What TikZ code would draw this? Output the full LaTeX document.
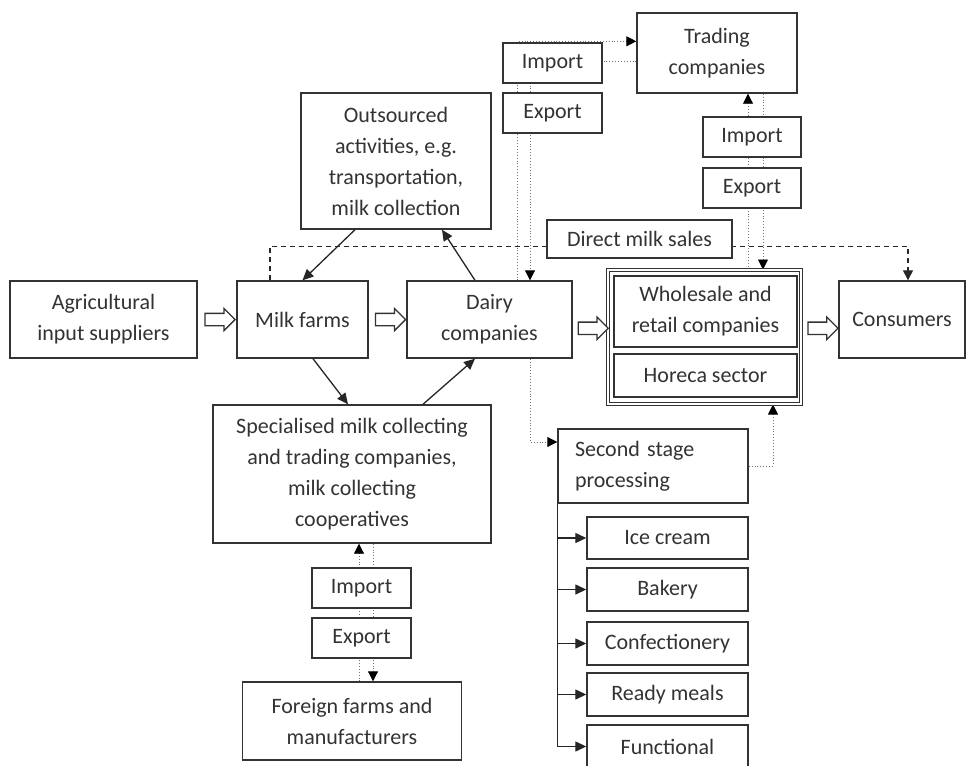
\documentclass[tikz,border=0pt]{standalone}
\usepackage{fontspec}
\setmainfont{Carlito}
\usetikzlibrary{arrows.meta,shapes.arrows,calc,backgrounds}

\begin{document}
\begin{tikzpicture}[x=1pt, y=-1pt,
  font=\fontsize{22}{31}\selectfont,
  box/.style={draw=black!80, line width=1.4pt, fill=white, text=black!80,
    align=center, inner sep=0pt},
  outerbox/.style={draw=black!80, line width=1pt, double, double distance=1.3pt,
    fill=white, inner sep=0pt},
  bigarrow/.style={single arrow, draw=black!80, line width=1.3pt, fill=white,
    minimum height=30pt, single arrow head extend=5pt,
    single arrow head indent=0pt, inner sep=0pt},
  flow/.style={draw=black!85, line width=1.3pt, -{Triangle[length=11pt,width=10pt]}},
  dotflow/.style={draw=black!55, line width=0.9pt, dotted,
    -{Triangle[length=10pt,width=10pt,fill=black,color=black]}},
  salesflow/.style={draw=black!85, line width=1.3pt, dash pattern=on 5pt off 4pt,
    -{Triangle[length=10pt,width=10pt]}}]
  \useasboundingbox (0,0) rectangle (975,766);

  \node[box, minimum width=187pt, minimum height=77pt] (agr) at (103.5,319.5) {Agricultural\\input suppliers};
  \node[box, minimum width=131pt, minimum height=77pt] (milk) at (302.5,319.5) {Milk farms};
  \node[box, minimum width=165pt, minimum height=77pt] (dairy) at (489.5,319.5) {Dairy\\companies};
  \node[outerbox, minimum width=193pt, minimum height=134pt] (wsout) at (704.5,337) {};
  \node[box, minimum width=183pt, minimum height=71pt] (retail) at (705.5,311.5) {Wholesale and\\retail companies};
  \node[box, minimum width=183pt, minimum height=43pt] (horeca) at (705.5,375.5) {Horeca sector};
  \node[box, minimum width=126pt, minimum height=77pt] (cons) at (902,319.5) {Consumers};

  \node[box, minimum width=190pt, minimum height=136pt] (outs) at (396,161) {Outsourced\\activities, e.g.\\transportation,\\milk collection};
  \node[box, minimum width=278pt, minimum height=138pt] (spec) at (352,474) {Specialised milk collecting\\and trading companies,\\milk collecting\\cooperatives};
  \node[box, minimum width=99pt, minimum height=40pt] (impL) at (361.5,588) {Import};
  \node[box, minimum width=99pt, minimum height=40pt] (expL) at (361.5,638) {Export};
  \node[box, minimum width=219pt, minimum height=78pt] (foreign) at (352,721) {Foreign farms and\\manufacturers};

  \node[box, minimum width=160pt, minimum height=80pt] (trade) at (717,53) {Trading\\companies};
  \node[box, minimum width=99pt, minimum height=40pt] (impT) at (552.5,63) {Import};
  \node[box, minimum width=99pt, minimum height=40pt] (expT) at (552.5,113) {Export};
  \node[box, minimum width=98pt, minimum height=40pt] (impR) at (752,137) {Import};
  \node[box, minimum width=98pt, minimum height=40pt] (expR) at (752,188) {Export};
  \node[box, minimum width=185pt, minimum height=38pt] (direct) at (639.5,239) {Direct milk sales};

  \node[box, align=left, text width=156pt, inner xsep=17pt, minimum height=74pt] (second) at (653,466) {Second stage\\processing};
  \node[box, minimum width=161pt, minimum height=42pt] (icecream) at (667.5,538) {Ice cream};
  \node[box, minimum width=161pt, minimum height=43pt] (bakery) at (667.5,589.5) {Bakery};
  \node[box, minimum width=161pt, minimum height=43pt] (confect) at (667.5,643.5) {Confectionery};
  \node[box, minimum width=161pt, minimum height=43pt] (ready) at (667.5,694.5) {Ready meals};
  \node[box, minimum width=161pt, minimum height=43pt] (functional) at (667.5,746.5) {Functional};

  \node[bigarrow] (a1) at ($(agr.east)!0.5!(milk.west)$) {\rule{0pt}{11pt}};
  \node[bigarrow] (a2) at ($(milk.east)!0.5!(dairy.west)$) {\rule{0pt}{11pt}};
  \node[bigarrow] (a3) at ($(dairy.east)!0.5!(wsout.west)$) {\rule{0pt}{11pt}};
  \node[bigarrow] (a4) at ($(wsout.east)!0.5!(cons.west)$) {\rule{0pt}{11pt}};

  \draw[flow] ([xshift=-41pt]outs.south) -- (milk.north);
  \draw[flow] ([xshift=-14.5pt]dairy.north) -- ([xshift=46pt]outs.south);
  \draw[flow] ([xshift=10.5pt]milk.south) -- ([xshift=-4pt]spec.north);
  \draw[flow] ([xshift=71pt]spec.north) -- ([xshift=-14.5pt]dairy.south);

  \draw[draw=black!85, line width=1.3pt] (second.south west) -- (second.south west |- functional.west);
  \foreach \n in {icecream,bakery,confect,ready,functional}
    \draw[flow] (second.south west |- \n.west) -- (\n.west);

  \begin{scope}[on background layer]
    \draw[salesflow] ([xshift=-32.5pt]milk.north) -- ++(0,-34) -| ([xshift=6pt]cons.north);
    \draw[dotflow] ([xshift=27.5pt]dairy.north) |- ([yshift=-29pt]trade.north west);
    \draw[dotflow] ([yshift=-49pt]trade.north west) -| ([xshift=40.5pt]dairy.north);
    \draw[dotflow] ([xshift=43.5pt]wsout.north) -- ([xshift=31pt]trade.south);
    \draw[dotflow] ([xshift=46pt]trade.south) -- ([xshift=58.5pt]wsout.north);
    \draw[dotflow] ([xshift=7pt]foreign.north) -- ([xshift=7pt]spec.south);
    \draw[dotflow] ([xshift=21pt]spec.south) -- ([xshift=21pt]foreign.north);
    \draw[dotflow] ([xshift=40.5pt]dairy.south) |- ([yshift=24pt]second.west);
    \draw[dotflow] (second.east) -| ([xshift=68.5pt]wsout.south);
  \end{scope}
\end{tikzpicture}
\end{document}
